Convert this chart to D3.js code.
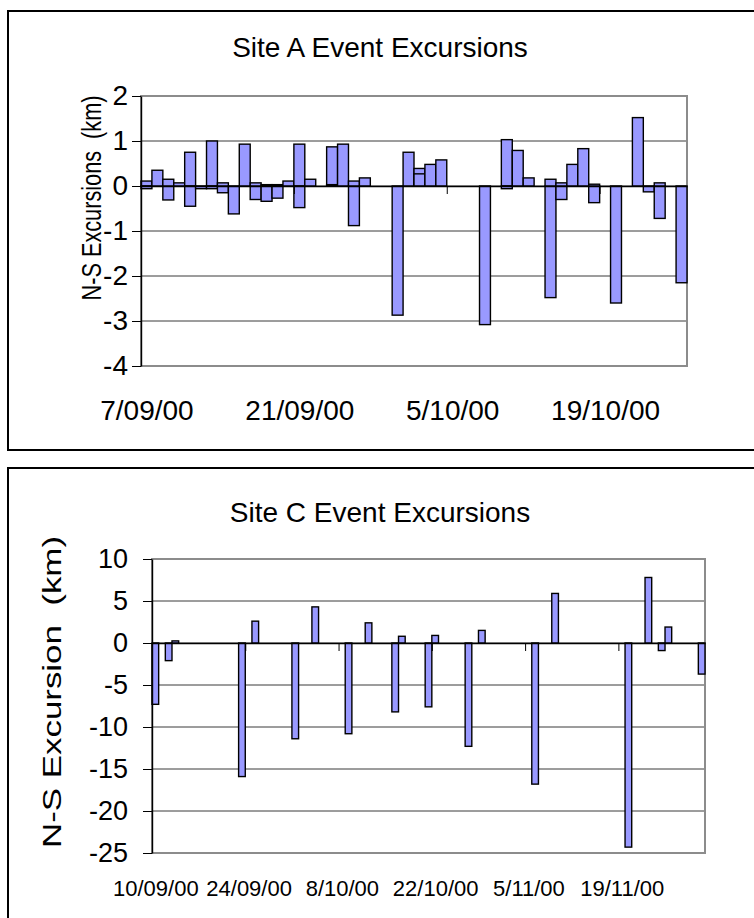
<!DOCTYPE html>
<html>
<head>
<meta charset="utf-8">
<script src="https://cdn.jsdelivr.net/npm/d3@7"></script>
<style>
  html, body { margin: 0; padding: 0; background: #fff; }
  svg { display: block; }
  text { font-family: "Liberation Sans", Arial, sans-serif; fill: #000; }
</style>
</head>
<body>
<svg id="chart" width="754" height="918"></svg>
<script>
// ---------- Site A data ----------
const siteADates = ["2000-09-07","2000-09-07","2000-09-08","2000-09-09","2000-09-09","2000-09-10","2000-09-11","2000-09-11","2000-09-12","2000-09-13","2000-09-13","2000-09-14","2000-09-14","2000-09-15","2000-09-16","2000-09-17","2000-09-17","2000-09-18","2000-09-18","2000-09-19","2000-09-19","2000-09-20","2000-09-21","2000-09-21","2000-09-22","2000-09-24","2000-09-24","2000-09-25","2000-09-26","2000-09-26","2000-09-27","2000-09-30","2000-10-01","2000-10-02","2000-10-02","2000-10-03","2000-10-04","2000-10-08","2000-10-10","2000-10-10","2000-10-11","2000-10-12","2000-10-14","2000-10-14","2000-10-15","2000-10-15","2000-10-16","2000-10-17","2000-10-18","2000-10-18","2000-10-20","2000-10-22","2000-10-23","2000-10-24","2000-10-24","2000-10-26"];
const siteAValues = [0.11,-0.06,0.35,0.15,-0.31,0.07,0.75,-0.45,-0.06,1.0,-0.06,0.07,-0.15,-0.62,0.93,0.07,-0.30,0.03,-0.34,0.03,-0.27,0.11,0.93,-0.48,0.15,0.87,0.03,0.93,0.11,-0.88,0.18,-2.87,0.75,0.39,0.27,0.48,0.58,-3.08,1.03,-0.06,0.79,0.18,0.15,-2.48,0.07,-0.30,0.48,0.83,0.04,-0.37,-2.6,1.52,-0.13,0.07,-0.72,-2.15];
const siteAXTicks = ["2000-09-07","2000-09-21","2000-10-05","2000-10-19"];
const siteAYTicks = [2,1,0,-1,-2,-3,-4];
const siteADomain = ["2000-09-07","2000-10-27"];

// ---------- Site C data ----------
const siteCDates = ["2000-09-10","2000-09-12","2000-09-13","2000-09-23","2000-09-25","2000-10-01","2000-10-04","2000-10-09","2000-10-12","2000-10-16","2000-10-17","2000-10-21","2000-10-22","2000-10-27","2000-10-29","2000-11-06","2000-11-09","2000-11-20","2000-11-23","2000-11-25","2000-11-26","2000-12-01"];
const siteCValues = [-7.3,-2.1,0.25,-15.9,2.6,-11.4,4.3,-10.8,2.4,-8.2,0.8,-7.6,0.9,-12.3,1.5,-16.8,5.9,-24.3,7.8,-0.9,1.9,-3.7];
const siteCXTicks = ["2000-09-10","2000-09-24","2000-10-08","2000-10-22","2000-11-05","2000-11-19"];
const siteCYTicks = [10,5,0,-5,-10,-15,-20,-25];
const siteCDomain = ["2000-09-10","2000-12-02"];

const parse = d3.utcParse("%Y-%m-%d");
const fmtLabel = d => `${d.getUTCDate()}/${String(d.getUTCMonth()+1).padStart(2,"0")}/${String(d.getUTCFullYear()).slice(2)}`;
const svg = d3.select("#chart");

function drawChart(cfg) {
  const g = svg.append("g");
  // outer chart frame
  g.append("rect")
    .attr("x", cfg.frame[0]).attr("y", cfg.frame[1])
    .attr("width", cfg.frame[2]).attr("height", cfg.frame[3])
    .attr("fill", "none").attr("stroke", "#000").attr("stroke-width", 2);

  const x = d3.scaleUtc().domain(cfg.domain.map(parse)).range([cfg.left, cfg.right]);
  const y = d3.scaleLinear().domain([cfg.yTicks[0], cfg.yTicks[cfg.yTicks.length-1]]).range([cfg.top, cfg.bottom]);

  // gridlines
  g.append("g").selectAll("line").data(cfg.yTicks).join("line")
    .attr("x1", cfg.left).attr("x2", cfg.right)
    .attr("y1", d => y(d)).attr("y2", d => y(d))
    .attr("stroke", "#3a3a3a").attr("stroke-width", 1);

  // plot area border (grey)
  g.append("rect")
    .attr("x", cfg.left).attr("y", cfg.top)
    .attr("width", cfg.right - cfg.left).attr("height", cfg.bottom - cfg.top)
    .attr("fill", "none").attr("stroke", "#8c8c8c").attr("stroke-width", 2);

  // bars
  const data = cfg.dates.map((d, i) => ({ d: parse(d), v: cfg.values[i] }));
  data.sort((a, b) => (a.d - b.d) || (Math.abs(b.v) - Math.abs(a.v)));
  g.append("g").selectAll("rect").data(data).join("rect")
    .attr("x", d => x(d.d))
    .attr("width", d => x(d3.utcDay.offset(d.d, 1)) - x(d.d))
    .attr("y", d => y(Math.max(0, d.v)))
    .attr("height", d => Math.abs(y(d.v) - y(0)))
    .attr("fill", "#9999ff").attr("stroke", "#000").attr("stroke-width", 1.4);

  // x axis line at zero with tick marks at label dates (left edge of day)
  const xTickAxis = d3.axisBottom(x)
    .tickValues(cfg.xTicks.map(parse))
    .tickSize(8).tickSizeOuter(0).tickFormat("");
  const xa = g.append("g").attr("transform", `translate(0,${y(0)})`).call(xTickAxis);
  xa.select(".domain").attr("stroke", "#000").attr("stroke-width", 1.4);
  xa.selectAll(".tick line").attr("stroke", "#000");

  // x labels centered on the day slot
  const xLabelAxis = d3.axisBottom(x)
    .tickValues(cfg.xTicks.map(d => d3.utcHour.offset(parse(d), 12)))
    .tickSize(0).tickPadding(0)
    .tickFormat(fmtLabel);
  const xl = g.append("g").attr("transform", `translate(0,${cfg.xLabelY})`).call(xLabelAxis);
  xl.select(".domain").remove();
  xl.selectAll("text").attr("font-size", cfg.xFont).attr("dy", "0.35em")
    .attr("font-family", '"Liberation Sans", Arial, sans-serif');

  // y axis
  const yAxis = d3.axisLeft(y).tickValues(cfg.yTicks).tickSize(9).tickSizeOuter(0)
    .tickPadding(cfg.yPad).tickFormat(d => String(d));
  const ya = g.append("g").attr("transform", `translate(${cfg.left},0)`).call(yAxis);
  ya.select(".domain").attr("stroke", "#000").attr("stroke-width", 1.4);
  ya.selectAll(".tick line").attr("stroke", "#000");
  ya.selectAll("text").attr("font-size", cfg.yFont)
    .attr("font-family", '"Liberation Sans", Arial, sans-serif');

  // title
  g.append("text").attr("x", cfg.titleX).attr("y", cfg.titleY)
    .attr("text-anchor", "middle").attr("dy", "0.35em")
    .attr("font-size", cfg.titleFont).text(cfg.title);

  // y title
  g.append("text")
    .attr("transform", `translate(${cfg.yTitleX},${cfg.yTitleY}) rotate(-90)`)
    .attr("text-anchor", "middle").attr("dy", "0.35em")
    .attr("font-size", cfg.yTitleFont)
    .attr("textLength", cfg.yTitleLen).attr("lengthAdjust", "spacingAndGlyphs")
    .attr("xml:space", "preserve")
    .text(cfg.yTitle);
}

drawChart({
  frame: [8, 11, 760, 439],
  domain: siteADomain, dates: siteADates, values: siteAValues,
  xTicks: siteAXTicks, yTicks: siteAYTicks,
  left: 141, right: 687, top: 96, bottom: 366,
  xLabelY: 410, xFont: 28, yFont: 28, yPad: 4,
  title: "Site A Event Excursions", titleX: 380, titleY: 47, titleFont: 28,
  yTitle: "N-S Excursions  (km)", yTitleX: 91, yTitleY: 198, yTitleFont: 28, yTitleLen: 205
});

drawChart({
  frame: [8, 468, 760, 470],
  domain: siteCDomain, dates: siteCDates, values: siteCValues,
  xTicks: siteCXTicks, yTicks: siteCYTicks,
  left: 152, right: 705, top: 559, bottom: 853,
  xLabelY: 888, xFont: 22, yFont: 27, yPad: 15,
  title: "Site C Event Excursions", titleX: 380, titleY: 512, titleFont: 28,
  yTitle: "N-S Excursion  (km)", yTitleX: 52, yTitleY: 692, yTitleFont: 26, yTitleLen: 312
});
</script>
</body>
</html>
